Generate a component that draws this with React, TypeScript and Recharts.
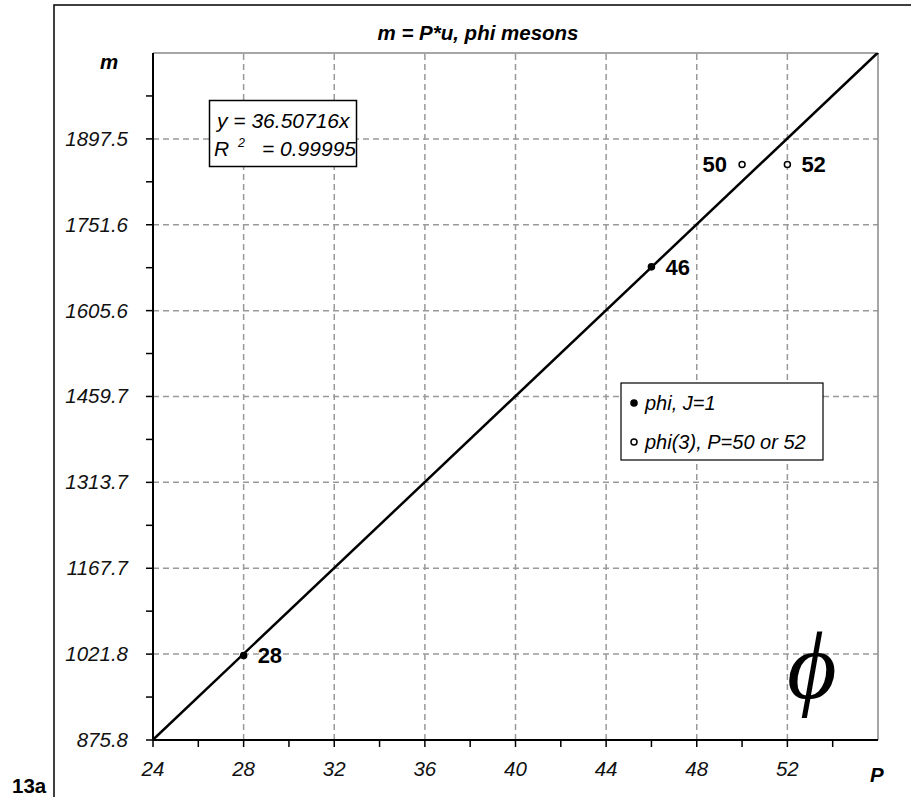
import React from 'react';
import { ScatterChart, Scatter, XAxis, YAxis, ReferenceLine } from 'recharts';

// P = quantum number, m = mass (MeV)
const X_TICKS = [24, 26, 28, 30, 32, 34, 36, 38, 40, 42, 44, 46, 48, 50, 52, 54];
const X_LABELS = [24, 28, 32, 36, 40, 44, 48, 52];
const X_GRID = [28, 32, 36, 40, 44, 48, 52];
const X_MAX = 56;

const Y_LABELS = [875.8, 1021.8, 1167.7, 1313.7, 1459.7, 1605.6, 1751.6, 1897.5];
const Y_MINOR = [948.8, 1094.8, 1240.7, 1386.7, 1532.7, 1678.6, 1824.6, 1970.5];
const Y_GRID = [1021.8, 1167.7, 1313.7, 1459.7, 1605.6, 1751.6, 1897.5];
const Y_MAX = 2043.5;

const phiJ1 = [
  { P: 28, m: 1019.5 },
  { P: 46, m: 1680 },
];
const phi3 = [
  { P: 50, m: 1854 },
  { P: 52, m: 1854 },
];
const LEFT_LABELS = [50];

// linear fit through origin, y = 36.50716x
const SLOPE = 36.50716;
const FIT_P = [24, 56];
const fitLine = FIT_P.map(P => ({ P, m: SLOPE * P }));

const FONT = '"Liberation Sans", Arial, sans-serif';
const GRID = '#999';

const YTick = ({ x, y, payload }: any) => {
  const v = payload.value;
  const labeled = Y_LABELS.includes(v);
  return (
    <g>
      <line x1={x - 7} x2={x} y1={y} y2={y} stroke="#000" strokeWidth={1.5} />
      {labeled && (
        <text x={x - 25} y={y + 7} textAnchor="end" fontFamily={FONT} fontStyle="italic" fontSize={20.5} fill="#111">
          {v.toFixed(1)}
        </text>
      )}
    </g>
  );
};

const XTick = ({ x, y, payload }: any) => {
  const v = payload.value;
  return (
    <g>
      <line x1={x} x2={x} y1={y} y2={y + 7} stroke="#000" strokeWidth={1.5} />
      {X_LABELS.includes(v) && (
        <text x={x} y={y + 36} textAnchor="middle" fontFamily={FONT} fontStyle="italic" fontSize={20.5} fill="#111">
          {v}
        </text>
      )}
    </g>
  );
};

const pointShape = (open: boolean) => (props: any) => {
  const { cx, cy, payload } = props;
  const left = LEFT_LABELS.includes(payload.P);
  return (
    <g>
      <circle
        cx={cx}
        cy={cy}
        r={open ? 3 : 3.8}
        fill={open ? '#fff' : '#000'}
        stroke="#000"
        strokeWidth={open ? 1.5 : 0}
      />
      <text
        x={left ? cx - 15 : cx + 14}
        y={cy + 8}
        textAnchor={left ? 'end' : 'start'}
        fontFamily={FONT}
        fontWeight="bold"
        fontSize={22}
        fill="#000"
      >
        {payload.P}
      </text>
    </g>
  );
};

const Annotations = () => (
  <svg
    width={911}
    height={797}
    style={{ position: 'absolute', left: 0, top: 0, pointerEvents: 'none' }}
  >
    <path d="M54,797 L54,5 L911,5" fill="none" stroke="#000" strokeWidth={1.5} />
    <text x={478} y={40} textAnchor="middle" fontFamily={FONT} fontWeight="bold" fontStyle="italic" fontSize={20.5}>
      m = P*u, phi mesons
    </text>
    <text x={100} y={69} fontFamily={FONT} fontWeight="bold" fontStyle="italic" fontSize={20.5}>m</text>
    <text x={870} y={782} fontFamily={FONT} fontWeight="bold" fontStyle="italic" fontSize={20.5}>P</text>
    <text x={12} y={793} fontFamily={FONT} fontWeight="bold" fontSize={20.5}>13a</text>

    {/* regression box */}
    <rect x={209.5} y={100.5} width={147} height={66} fill="#fff" stroke="#000" strokeWidth={1.5} />
    <text x={217} y={128} fontFamily={FONT} fontStyle="italic" fontSize={21}>y = 36.50716x</text>
    <text x={214} y={156} fontFamily={FONT} fontStyle="italic" fontSize={21}>R</text>
    <text x={238} y={147} fontFamily={FONT} fontStyle="italic" fontSize={12.5}>2</text>
    <text x={262} y={156} fontFamily={FONT} fontStyle="italic" fontSize={21}>= 0.99995</text>

    {/* legend */}
    <rect x={621} y={383} width={202} height={77} fill="#fff" stroke="#000" strokeWidth={1.2} />
    <circle cx={634} cy={403} r={3.8} fill="#000" />
    <text x={645} y={410} fontFamily={FONT} fontStyle="italic" fontSize={20}>phi, J=1</text>
    <circle cx={634} cy={442} r={3} fill="#fff" stroke="#000" strokeWidth={1.5} />
    <text x={645} y={449} fontFamily={FONT} fontStyle="italic" fontSize={20}>phi(3), P=50 or 52</text>

    <text
      x={787}
      y={698}
      fontFamily='"Liberation Serif", "DejaVu Serif", "Times New Roman", serif'
      fontStyle="italic"
      fontSize={96}
    >
      ϕ
    </text>
  </svg>
);

export default function App() {
  return (
    <div style={{ position: 'absolute', left: 0, top: 0, width: 911, height: 797, background: '#fff' }}>
      <ScatterChart width={911} height={797} margin={{ top: 53, right: 33, bottom: 0, left: 0 }}>
        <XAxis
          type="number"
          dataKey="P"
          domain={[24, X_MAX]}
          ticks={X_TICKS}
          interval={0}
          tick={<XTick />}
          tickLine={false}
          tickSize={0}
          tickMargin={0}
          height={57}
          axisLine={{ stroke: '#000', strokeWidth: 2 }}
        />
        <YAxis
          type="number"
          dataKey="m"
          domain={[875.8, Y_MAX]}
          allowDataOverflow
          ticks={[...Y_LABELS, ...Y_MINOR].sort((a, b) => a - b)}
          interval={0}
          tick={<YTick />}
          tickLine={false}
          tickSize={0}
          tickMargin={0}
          width={153}
          axisLine={{ stroke: '#000', strokeWidth: 2 }}
        />
        {X_GRID.map(v => (
          <ReferenceLine key={`x${v}`} x={v} stroke={GRID} strokeWidth={1.5} strokeDasharray="6 4" />
        ))}
        {Y_GRID.map(v => (
          <ReferenceLine key={`y${v}`} y={v} stroke={GRID} strokeWidth={1.5} strokeDasharray="6 4" />
        ))}
        <ReferenceLine y={Y_MAX} stroke="#888" strokeWidth={1.5} />
        <ReferenceLine x={X_MAX} stroke="#888" strokeWidth={1.5} />
        <Scatter
          name="fit"
          data={fitLine}
          line={{ stroke: '#000', strokeWidth: 2.5 }}
          shape={() => <g />}
          isAnimationActive={false}
        />
        <Scatter name="phi, J=1" data={phiJ1} shape={pointShape(false)} isAnimationActive={false} />
        <Scatter name="phi(3), P=50 or 52" data={phi3} shape={pointShape(true)} isAnimationActive={false} />
      </ScatterChart>
      <Annotations />
    </div>
  );
}
